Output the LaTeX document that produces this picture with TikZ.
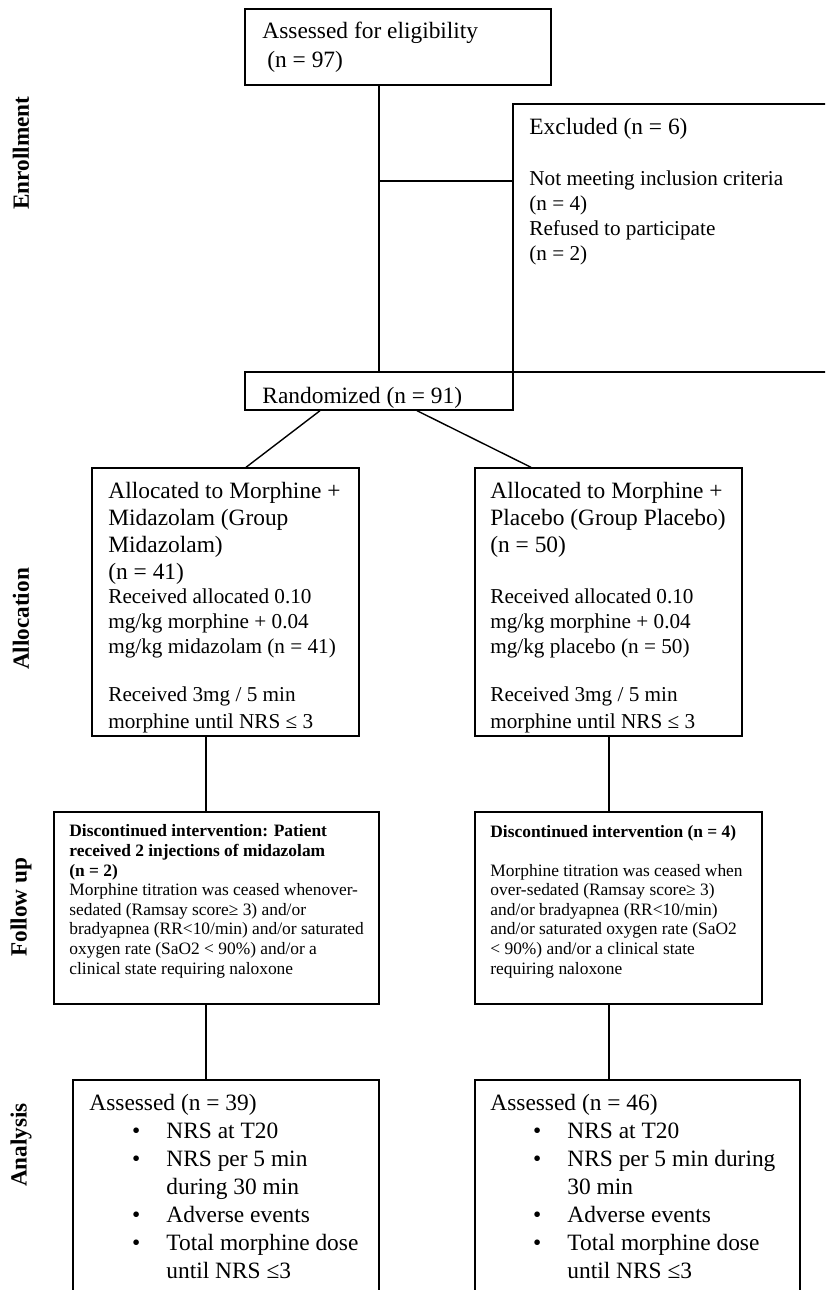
\documentclass[tikz,border=0pt]{standalone}
\usepackage{fontspec}
\setmainfont{Liberation Serif}
\usepackage{tikz}
\usetikzlibrary{positioning, fit}

\tikzset{
  box/.style={draw=black, line width=0.7pt, inner sep=0pt},
  txt/.style={anchor=base west, align=left, inner sep=0pt},
  big/.style={font=\fontsize{11.7}{#1}\selectfont},
  big/.default=14,
  small/.style={font=\fontsize{10.6}{#1}\selectfont},
  small/.default=12.5,
  tiny/.style={font=\fontsize{8.7}{9.8}\selectfont},
  tinyb/.style={font=\fontsize{8.7}{9.8}\selectfont\bfseries},
  side/.style={font=\fontsize{11.6}{14}\selectfont\bfseries, rotate=90, inner sep=0pt},
  link/.style={draw=black, line width=0.7pt}
}
\newcommand{\bul}{\makebox[0pt][r]{\textbullet\hspace{13pt}}}

\begin{document}
\begin{tikzpicture}[x=0.5pt, y=-0.5pt]
\useasboundingbox (0,0) rectangle (825,1290);
\clip (0,0) rectangle (825,1290);

\node[box, fit={(245,9) (551,85)}] (assess) {};
\node[box, fit={(513,104) (845,372)}] (excl) {};
\node[box, fit={(245,372) (513,410)}] (rand) {};
\node[box, fit={(92,468) (359,736)}] (alloc1) {};
\node[box, fit={(475,468) (742,736)}] (alloc2) {};
\node[box, fit={(54,812) (379,1004)}] (disc1) {};
\node[box, fit={(475,812) (762,1004)}] (disc2) {};
\node[box, fit={(73,1080) (379,1310)}] (ana1) {};
\node[box, fit={(475,1080) (800,1310)}] (ana2) {};

\node[side] (lenrol) at (21,153) {Enrollment};
\node[side] (lalloc) at (21,619) {Allocation};
\node[side] (lfollow) at (21,907) {Follow up};
\node[side] (lana) at (21,1145) {Analysis};

\node[txt, big] (assesst) at (262,67) {Assessed for eligibility\\\hspace*{2.5pt}(n = 97)};
\node[txt, big] (exclt) at (529,134) {Excluded (n = 6)};
\node[txt, small] (excls) at (529,260) {Not meeting inclusion criteria\\(n = 4)\\Refused to participate\\(n = 2)};
\node[txt, big] (randt) at (262,403) {Randomized (n = 91)};

\node[txt, big=13.5] (alloc1t) at (108,579) {Allocated to Morphine +\\Midazolam (Group\\Midazolam)\\(n = 41)};
\node[txt, small] (alloc1m) at (108,653) {Received allocated 0.10\\mg/kg morphine + 0.04\\mg/kg midazolam (n = 41)};
\node[txt, small=13.5] (alloc1b) at (108,728) {Received 3mg / 5 min\\morphine until NRS ≤ 3};

\node[txt, big=13.5] (alloc2t) at (490,552) {Allocated to Morphine +\\Placebo (Group Placebo)\\(n = 50)};
\node[txt, small] (alloc2m) at (490,653) {Received allocated 0.10\\mg/kg morphine + 0.04\\mg/kg placebo (n = 50)};
\node[txt, small=13.5] (alloc2b) at (490,728) {Received 3mg / 5 min\\morphine until NRS ≤ 3};

\node[txt, tinyb] (disc1t) at (69,876) {Discontinued intervention: Patient\\received 2 injections of midazolam\\(n = 2)};
\node[txt, tiny] (disc1s) at (69,974) {Morphine titration was ceased whenover-\\sedated (Ramsay score≥ 3) and/or\\bradyapnea (RR<10/min) and/or saturated\\oxygen rate (SaO2 < 90\%) and/or a\\clinical state requiring naloxone};

\node[txt, tinyb] (disc2t) at (490,837) {Discontinued intervention (n = 4)};
\node[txt, tiny] (disc2s) at (490,974) {Morphine titration was ceased when\\over-sedated (Ramsay score≥ 3)\\and/or bradyapnea (RR<10/min)\\and/or saturated oxygen rate (SaO2\\< 90\%) and/or a clinical state\\requiring naloxone};

\node[txt, big] (ana1t) at (89,1110) {Assessed (n = 39)};
\node[txt, big] (ana1l) at (166,1278) {\bul NRS at T20\\\bul NRS per 5 min\\during 30 min\\\bul Adverse events\\\bul Total morphine dose\\until NRS ≤3};
\node[txt, big] (ana2t) at (490,1110) {Assessed (n = 46)};
\node[txt, big] (ana2l) at (567,1278) {\bul NRS at T20\\\bul NRS per 5 min during\\30 min\\\bul Adverse events\\\bul Total morphine dose\\until NRS ≤3};

\coordinate (split) at (379,181);
\coordinate (c1) at (206,0);
\coordinate (c2) at (609,0);
\draw[link] (rand.north) -- (rand.north |- assess.south);
\draw[link] (split) -- (split -| excl.west);
\draw[link] ([shift={(-59,0)}]rand.south) -- ([shift={(20.5,0)}]alloc1.north);
\draw[link] ([shift={(38,0)}]rand.south) -- ([shift={(-77.5,0)}]alloc2.north);
\draw[link] (c1 |- alloc1.south) -- (c1 |- disc1.north);
\draw[link] (c1 |- disc1.south) -- (c1 |- ana1.north);
\draw[link] (c2 |- alloc2.south) -- (c2 |- disc2.north);
\draw[link] (c2 |- disc2.south) -- (c2 |- ana2.north);
\end{tikzpicture}
\end{document}
